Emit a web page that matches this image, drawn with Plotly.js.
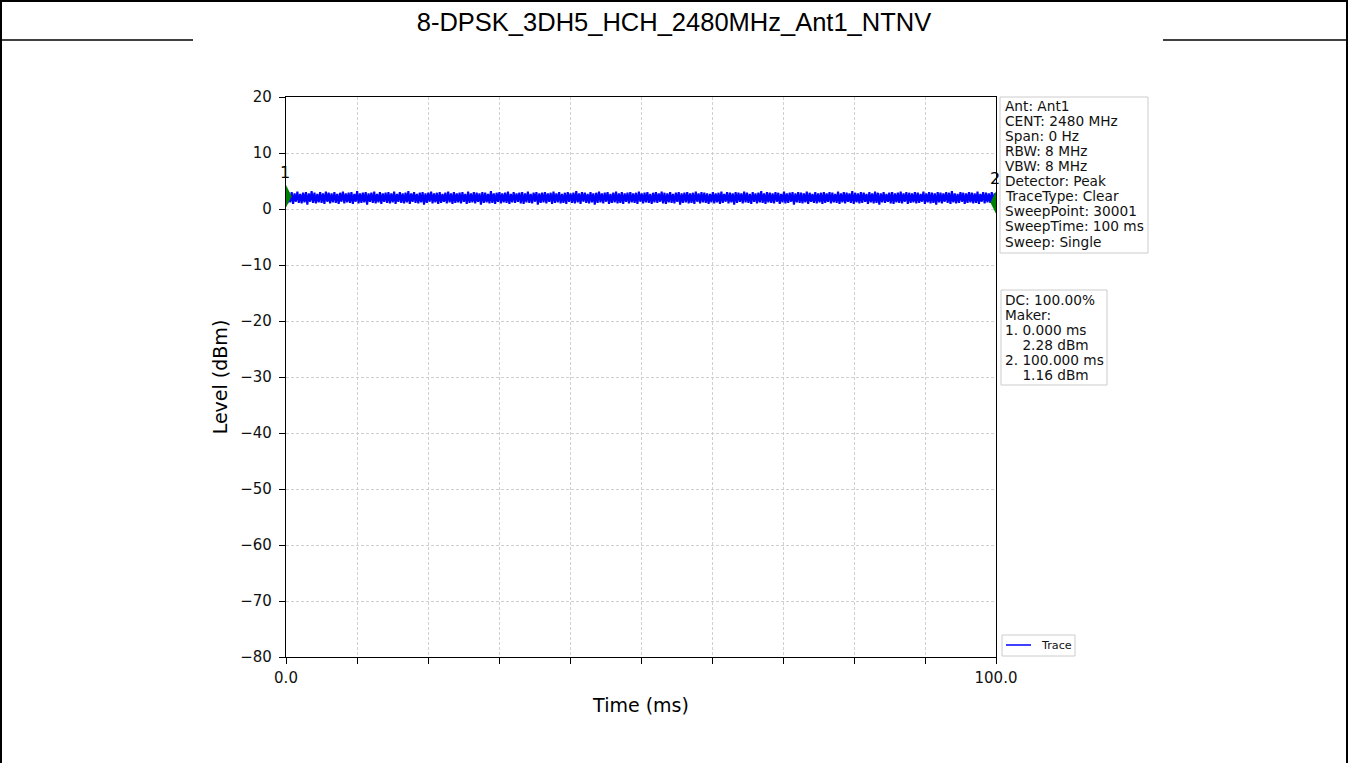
<!DOCTYPE html>
<html>
<head>
<meta charset="utf-8">
<script src="https://cdn.plot.ly/plotly-3.0.1.min.js"></script>
<style>
html,body{margin:0;padding:0;background:#fff;}
#chart{width:1348px;height:763px;}
</style>
</head>
<body>
<div id="chart"></div>
<script>
// ---- data ----
var chartTitle = "8-DPSK_3DH5_HCH_2480MHz_Ant1_NTNV";
var sweepTimeMs = 100;
var traceName = "Trace";
var traceLevel = [
2.28,1.0,2.9,1.2,3.0,0.9,2.8,1.3,3.1,1.1,2.7,1.0,2.9,1.2,3.0,0.8,2.8,1.3,3.2,1.1,
2.9,1.0,2.7,1.2,3.0,1.1,2.8,0.9,3.1,1.3,2.9,1.0,2.8,1.2,3.0,1.1,2.7,0.9,2.9,1.3,
3.1,1.0,2.8,1.2,2.9,1.1,3.0,0.9,2.7,1.3,3.2,1.0,2.8,1.1,2.9,1.2,3.0,0.8,2.8,1.3,
2.9,1.1,3.1,1.0,2.7,1.2,3.0,0.9,2.8,1.3,2.9,1.1,3.0,1.0,2.8,1.2,3.1,0.9,2.7,1.3,
3.0,1.1,2.8,1.0,2.9,1.2,3.2,0.9,2.8,1.3,3.0,1.1,2.7,1.0,2.9,1.2,3.0,0.8,2.8,1.1,
2.9,1.3,3.1,1.0,2.8,1.2,2.9,0.9,3.0,1.1,2.7,1.3,2.9,1.0,3.1,1.2,2.8,0.9,3.0,1.1,
2.8,1.2,2.9,1.0,3.0,1.3,2.7,0.9,3.1,1.1,2.8,1.2,3.0,1.0,2.9,1.3,2.8,0.8,3.0,1.1,
2.9,1.2,2.7,1.0,3.2,1.1,2.8,0.9,2.9,1.3,3.0,1.0,2.8,1.2,2.9,1.1,3.1,0.9,2.7,1.2,
3.0,1.1,2.8,1.3,2.9,1.0,3.0,0.9,2.8,1.2,3.1,1.1,2.7,1.0,2.9,1.3,3.0,0.8,2.8,1.1,
2.9,1.2,3.0,1.0,2.8,1.3,2.9,0.9,3.1,1.1,2.8,1.2,3.0,1.0,2.7,1.1,2.9,0.9,3.0,1.3,
2.8,1.1,2.9,1.0,3.2,1.2,2.8,0.9,3.0,1.3,2.9,1.1,2.7,1.0,3.0,1.2,2.8,0.8,2.9,1.1,
3.1,1.2,2.8,1.0,2.9,1.3,3.0,0.9,2.7,1.1,2.9,1.2,3.1,1.0,2.8,1.1,3.0,0.9,2.8,1.3,
2.9,1.0,3.0,1.2,2.8,1.1,2.9,0.9,3.1,1.3,2.8,1.0,2.9,1.2,3.0,1.1,2.7,0.9,2.9,1.2,
3.0,1.1,2.8,1.3,3.1,1.0,2.9,0.9,2.8,1.2,3.0,1.1,2.7,1.0,2.9,1.3,3.0,0.8,2.8,1.1,
2.9,1.2,3.0,1.0,2.8,1.1,2.9,0.9,3.1,1.3,2.8,1.0,3.0,1.2,2.9,1.1,2.8,0.9,2.7,1.2,
3.0,1.0,2.8,1.2,2.9,0.9,3.1,1.1,2.7,1.3,3.0,1.0,2.9,1.2,2.8,0.8,3.0,1.1,2.9,1.3,
2.8,1.0,3.1,1.2,2.9,1.1,2.7,0.9,3.0,1.3,2.8,1.0,2.9,1.2,3.2,1.1,2.8,0.9,3.0,1.2,
2.9,1.1,2.8,1.0,3.0,1.3,2.9,0.9,2.7,1.2,3.1,1.0,2.8,1.1,2.9,1.3,3.0,0.8,2.8,1.2,
3.0,1.1,2.9,1.0,2.8,1.2,3.1,0.9,2.9,1.3,2.7,1.1,3.0,1.0,2.8,1.2,2.9,0.9,3.0,1.1,
2.8,1.3,3.0,1.0,2.9,1.2,2.7,1.1,3.1,0.9,2.8,1.2,3.0,1.0,2.9,1.3,2.8,1.1,3.2,0.9,
2.9,1.2,2.8,1.0,3.0,1.1,2.9,1.3,2.7,0.9,3.0,1.2,2.8,1.0,3.1,1.1,2.9,0.8,2.8,1.2,
3.0,1.1,2.7,1.3,2.9,1.0,3.0,0.9,2.8,1.2,2.9,1.1,3.1,1.0,2.8,1.3,3.0,0.9,2.9,1.1,
2.8,1.2,3.0,1.0,2.9,1.1,2.7,1.3,3.1,0.9,2.8,1.2,3.0,1.0,2.9,1.1,2.8,0.8,3.0,1.2,
2.9,1.0,2.8,1.3,3.0,1.1,2.9,0.9,3.2,1.2,2.8,1.0,2.7,1.1,3.0,1.3,2.9,0.9,2.8,1.1,
3.0,1.2,2.9,1.0,2.8,1.1,3.1,0.9,2.7,1.3,3.0,1.0,2.9,1.2,2.8,1.1,3.0,0.9,2.8,1.16
];
var markerNames = ["1", "2"];
var markerTimeMs = [0.0, 100.0];
var markerLevel = [2.28, 1.16];
var dutyCycle = "100.00%";
var infoLines = ["Ant: Ant1","CENT: 2480 MHz","Span: 0 Hz","RBW: 8 MHz","VBW: 8 MHz",
  "Detector: Peak","TraceType: Clear","SweepPoint: 30001","SweepTime: 100 ms","Sweep: Single"];
var xTickVals = [0,10,20,30,40,50,60,70,80,90,100];
var xTickText = ["0.0","","","","","","","","","","100.0"];
var yTickVals = [20,10,0,-10,-20,-30,-40,-50,-60,-70,-80];

// ---- layout helpers (pixel -> paper) ----
var PL = 286, PR = 996, PT = 97, PB = 657;
function px(x){ return (x - PL) / (PR - PL); }
function py(y){ return (PB - y) / (PB - PT); }

var timeAxis = traceLevel.map(function(_, i){ return i * sweepTimeMs / (traceLevel.length - 1); });

var markerLines = ["DC: " + dutyCycle, "Maker:"];
for (var m = 0; m < markerNames.length; m++) {
  markerLines.push(markerNames[m] + ". " + markerTimeMs[m].toFixed(3) + " ms");
  markerLines.push("\u00a0\u00a0\u00a0\u00a0" + markerLevel[m].toFixed(2) + " dBm");
}

var traceColor = "#0000ff";
var traces = [
  {x: timeAxis, y: traceLevel, type: "scatter", mode: "lines", name: traceName,
   line: {color: traceColor, width: 2.1, simplify: false}, hoverinfo: "skip", showlegend: false},
  {x: markerTimeMs, y: markerLevel, type: "scatter", mode: "markers", name: "Markers",
   showlegend: false, cliponaxis: true,
   marker: {symbol: "diamond-tall", size: 16, color: "#008000"}}
];

var annotations = [];
var textFont = {family: "DejaVu Sans", size: 13.7, color: "#111"};
infoLines.forEach(function(t, i){
  annotations.push({xref: "paper", yref: "paper", x: px(1002.5), y: py(105.7 + i * 15.1),
    xanchor: "left", yanchor: "middle", text: t, showarrow: false, font: textFont});
});
markerLines.forEach(function(t, i){
  annotations.push({xref: "paper", yref: "paper", x: px(1002.5), y: py(300 + i * 15),
    xanchor: "left", yanchor: "middle", text: t, showarrow: false, font: textFont});
});
for (var k = 0; k < markerNames.length; k++) {
  annotations.push({xref: "x", yref: "y", x: markerTimeMs[k], y: markerLevel[k],
    text: markerNames[k], showarrow: false, yshift: 24, xshift: -1,
    font: {family: "DejaVu Sans", size: 16, color: "#000"}});
}
// legend text
annotations.push({xref: "paper", yref: "paper", x: px(1039), y: py(645.5), xanchor: "left", yanchor: "middle",
  text: traceName, showarrow: false, font: {family: "DejaVu Sans", size: 11.2, color: "#111"}});

var boxColor = "#cccccc";
var shapes = [
  {type: "rect", xref: "paper", yref: "paper", x0: px(1000), x1: px(1148), y0: py(97), y1: py(253),
   line: {color: boxColor, width: 1}, fillcolor: "rgba(255,255,255,0.8)", layer: "below"},
  {type: "rect", xref: "paper", yref: "paper", x0: px(1001), x1: px(1107), y0: py(290), y1: py(385),
   line: {color: boxColor, width: 1}, fillcolor: "rgba(255,255,255,0.8)", layer: "below"},
  // legend box + sample line
  {type: "rect", xref: "paper", yref: "paper", x0: px(1002), x1: px(1075), y0: py(635), y1: py(656),
   line: {color: boxColor, width: 1}, fillcolor: "#fff", layer: "below"},
  {type: "line", xref: "paper", yref: "paper", x0: px(1006), x1: px(1031), y0: py(645), y1: py(645),
   line: {color: traceColor, width: 1.5}},
  // outer frame
  {type: "line", xref: "paper", yref: "paper", x0: px(0), x1: px(1348), y0: py(1), y1: py(1), line: {color: "#000", width: 2}},
  {type: "line", xref: "paper", yref: "paper", x0: px(1), x1: px(1), y0: py(0), y1: py(763), line: {color: "#000", width: 2}},
  {type: "line", xref: "paper", yref: "paper", x0: px(1347), x1: px(1347), y0: py(0), y1: py(763), line: {color: "#000", width: 2}},
  {type: "line", xref: "paper", yref: "paper", x0: px(0), x1: px(193), y0: py(40), y1: py(40), line: {color: "#000", width: 1.5}},
  {type: "line", xref: "paper", yref: "paper", x0: px(1163), x1: px(1348), y0: py(40), y1: py(40), line: {color: "#000", width: 1.5}}
];

var gridStyle = {showgrid: true, gridcolor: "#c4c4c4", griddash: "3px,2px", gridwidth: 0.8};
var layout = {
  width: 1348, height: 763,
  margin: {l: PL, r: 1348 - PR, t: PT, b: 763 - PB, pad: 0},
  paper_bgcolor: "#fff", plot_bgcolor: "#fff",
  font: {family: "DejaVu Sans", color: "#000"},
  title: {text: chartTitle, x: 0.5, xanchor: "center", xref: "container",
          y: 1 - 22 / 763, yanchor: "middle", yref: "container",
          font: {family: "Liberation Sans", size: 25.5, color: "#000"}},
  xaxis: Object.assign({range: [0, 100], tickvals: xTickVals, ticktext: xTickText,
          zeroline: false, showline: true, linecolor: "#000", linewidth: 1.2, mirror: true,
          ticks: "outside", ticklen: 6, tickcolor: "#000", tickwidth: 1, ticklabelstandoff: 1,
          tickfont: {family: "DejaVu Sans", size: 15, color: "#111"},
          title: {text: "Time (ms)", standoff: 12, font: {family: "DejaVu Sans", size: 19, color: "#000"}},
          automargin: false, fixedrange: true}, gridStyle),
  yaxis: Object.assign({range: [-80, 20], tickvals: yTickVals,
          zeroline: false, showline: true, linecolor: "#000", linewidth: 1.2, mirror: true,
          ticks: "outside", ticklen: 6, tickcolor: "#000", tickwidth: 1, ticklabelstandoff: 4,
          tickfont: {family: "DejaVu Sans", size: 15, color: "#111"},
          title: {text: "Level (dBm)", standoff: 7, font: {family: "DejaVu Sans", size: 19, color: "#000"}},
          automargin: false, fixedrange: true}, gridStyle),
  showlegend: false,
  annotations: annotations,
  shapes: shapes
};

Plotly.newPlot("chart", traces, layout, {displayModeBar: false, staticPlot: true});
</script>
</body>
</html>
